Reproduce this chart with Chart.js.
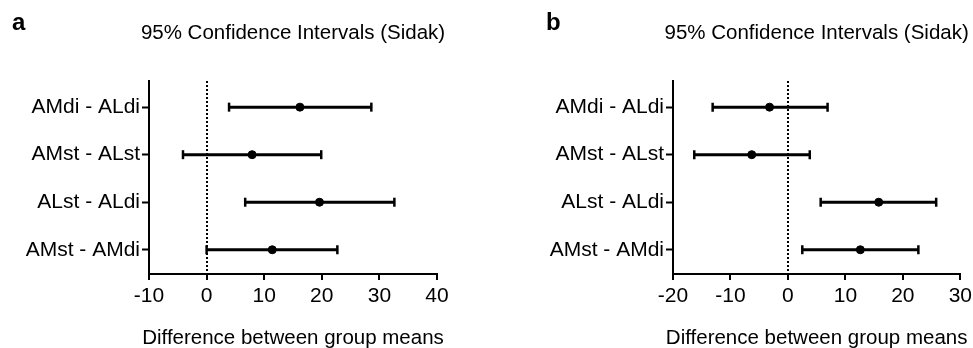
<!DOCTYPE html>
<html>
<head>
<meta charset="utf-8">
<script src="https://cdn.jsdelivr.net/npm/chart.js@4/dist/chart.umd.min.js"></script>
<style>
  html, body { margin: 0; padding: 0; background: #fff; }
  #wrap { position: relative; width: 973px; height: 348px; overflow: hidden; }
  canvas { position: absolute; top: 0; }
  #panel-a { left: 0; }
  #panel-b { left: 486px; }
</style>
</head>
<body>
<div id="wrap">
  <canvas id="panel-a" width="486" height="348"></canvas>
  <canvas id="panel-b" width="490" height="348"></canvas>
</div>
<script>
// Datos
const comparaciones = ['AMdi - ALdi', 'AMst - ALst', 'ALst - ALdi', 'AMst - AMdi'];

// panel a
const mediaA = [16.2, 7.9, 19.6, 11.4];
const bajoA = [3.9, -4.1, 6.7, 0.0];
const altoA = [28.6, 19.9, 32.6, 22.7];
const ejeA = [-10, 40];

// panel b
const mediaB = [-3.2, -6.3, 15.8, 12.6];
const bajoB = [-13.1, -16.3, 5.7, 2.5];
const altoB = [6.9, 3.8, 25.8, 22.7];
const ejeB = [-20, 30];

const titulo = '95% Confidence Intervals (Sidak)';
const tituloX = 'Difference between group means';

const FUENTE = "'Liberation Sans', Arial, Helvetica, sans-serif";

// letra del panel, título y título del eje X (sin maxWidth, que los comprime)
const textosPanel = {
  id: 'textosPanel',
  afterDraw(chart, args, opts) {
    const { ctx, chartArea } = chart;
    const cx = (chartArea.left + chartArea.right) / 2;
    ctx.save();
    ctx.fillStyle = '#000';
    ctx.textBaseline = 'alphabetic';

    ctx.font = `bold 24px ${FUENTE}`;
    ctx.textAlign = 'left';
    ctx.fillText(opts.letra, opts.letraX, 30);

    ctx.font = `20.5px ${FUENTE}`;
    ctx.textAlign = 'center';
    ctx.fillText(titulo, cx, 38.5);
    ctx.fillText(tituloX, cx, 343.5);
    ctx.restore();
  }
};

function crearPanel(id, letra, letraX, media, bajo, alto, eje, anchoY, padDer) {
  const filas = comparaciones.map((_, i) => i + 1);

  // barras de error: una serie por fila
  const barras = filas.map((y, i) => ({
    type: 'scatter',
    showLine: true,
    data: [{ x: bajo[i], y }, { x: alto[i], y }],
    borderColor: '#000',
    borderWidth: 3,
    pointStyle: 'line',
    pointRotation: 90,
    pointRadius: 4.5,
    pointBorderWidth: 2.5,
    pointBorderColor: '#000',
    pointHoverRadius: 4.5
  }));

  const puntos = {
    type: 'scatter',
    data: filas.map((y, i) => ({ x: media[i], y })),
    pointStyle: 'circle',
    pointRadius: 4,
    pointBorderWidth: 1,
    pointBackgroundColor: '#000',
    pointBorderColor: '#000'
  };

  return new Chart(document.getElementById(id), {
    type: 'scatter',
    data: { datasets: [...barras, puntos] },
    plugins: [textosPanel],
    options: {
      responsive: false,
      animation: false,
      devicePixelRatio: 1,
      layout: { padding: { left: 0, right: padDer, top: 81, bottom: 34.8 } },
      plugins: {
        legend: { display: false },
        tooltip: { enabled: false },
        title: { display: false },
        textosPanel: { letra, letraX }
      },
      scales: {
        x: {
          type: 'linear',
          min: eje[0],
          max: eje[1],
          ticks: {
            stepSize: 10,
            color: '#000',
            padding: 4,
            font: { family: FUENTE, size: 21, lineHeight: 1.2 }
          },
          grid: {
            drawOnChartArea: true,
            color: c => (c.tick && c.tick.value === 0 ? '#000' : 'rgba(0,0,0,0)'),
            lineWidth: 2,
            tickColor: '#000',
            tickWidth: 2,
            tickLength: 6
          },
          border: { display: true, color: '#000', width: 2, dash: [2, 2] },
          title: { display: false }
        },
        y: {
          type: 'linear',
          reverse: true,
          min: 0.45,
          max: 4.51,
          afterBuildTicks: s => { s.ticks = filas.map(v => ({ value: v })); },
          afterFit: s => { s.width = anchoY; },
          ticks: {
            color: '#000',
            padding: 2,
            font: { family: FUENTE, size: 21 },
            callback: v => comparaciones[v - 1] || ''
          },
          grid: {
            drawOnChartArea: false,
            tickColor: '#000',
            tickWidth: 2,
            tickLength: 7
          },
          border: { display: true, color: '#000', width: 2 }
        }
      }
    }
  });
}

crearPanel('panel-a', 'a', 12, mediaA, bajoA, altoA, ejeA, 149, 49);
crearPanel('panel-b', 'b', 60, mediaB, bajoB, altoB, ejeB, 187, 0);
</script>
</body>
</html>
